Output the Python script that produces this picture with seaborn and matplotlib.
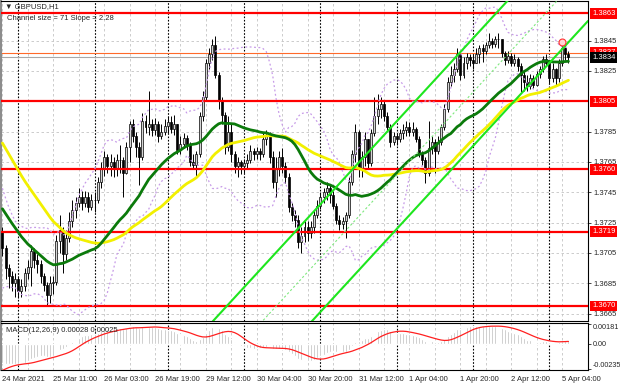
import numpy as np
import pandas as pd
import matplotlib
matplotlib.use('Agg')
import matplotlib.pyplot as plt
import matplotlib.transforms as mtransforms
import seaborn as sns

sns.set_style('white')
plt.rcParams['font.family'] = ['Liberation Sans', 'DejaVu Sans']

symbol = '\u25BC GBPUSD,H1'
channel_note = 'Channel size = 71 Slope = 2.28'
macd_note = 'MACD(12,26,9) 0.00028 0.00025'

# closes before the first drawn bar, only used to warm up the indicators
pre_close = [1.3872, 1.3875, 1.3870, 1.3866, 1.3870, 1.3862, 1.3858, 1.3860, 1.3852, 1.3855,
             1.3848, 1.3842, 1.3845, 1.3836, 1.3828, 1.3832, 1.3820, 1.3812, 1.3815, 1.3805,
             1.3798, 1.3790, 1.3782, 1.3785, 1.3775, 1.3770, 1.3772, 1.3765, 1.3768, 1.3760,
             1.3762, 1.3752, 1.3746, 1.3740, 1.3733, 1.3725, 1.3717, 1.3710, 1.3703, 1.3695,
             1.3690, 1.3697, 1.3705, 1.3700, 1.3706, 1.3711, 1.3714, 1.3708, 1.3715, 1.3719]

# H1 bars from 24 Mar 19:00 to 5 Apr 06:00
close = [1.3708, 1.3695, 1.3690, 1.3685, 1.3688, 1.3680, 1.3683, 1.3692, 1.3696, 1.3706,
         1.3700, 1.3698, 1.3690, 1.3684, 1.3677, 1.3685, 1.3686, 1.3713, 1.3720, 1.3704,
         1.3715, 1.3726, 1.3733, 1.3738, 1.3742, 1.3738, 1.3742, 1.3735, 1.3740, 1.3740,
         1.3752, 1.3760, 1.3768, 1.3762, 1.3765, 1.3760, 1.3766, 1.3766, 1.3758, 1.3775,
         1.3790, 1.3782, 1.3775, 1.3768, 1.3792, 1.3788, 1.3790, 1.3786, 1.3790, 1.3782,
         1.3785, 1.3789, 1.3791, 1.3787, 1.3790, 1.3773, 1.3777, 1.3781, 1.3776, 1.3765,
         1.3763, 1.3770, 1.3795, 1.3808, 1.3830, 1.3836, 1.3842, 1.3822, 1.3805, 1.3796,
         1.3775, 1.3785, 1.3770, 1.3762, 1.3765, 1.3762, 1.3764, 1.3766, 1.3772, 1.3770,
         1.3772, 1.3770, 1.3780, 1.3783, 1.3768, 1.3752, 1.3760, 1.3768, 1.3762, 1.3755,
         1.3735, 1.3730, 1.3727, 1.3712, 1.3716, 1.3722, 1.3718, 1.3722, 1.3730, 1.3736,
         1.3742, 1.3745, 1.3748, 1.3743, 1.3736, 1.3727, 1.3724, 1.3726, 1.3730, 1.3752,
         1.3770, 1.3785, 1.3760, 1.3768, 1.3780, 1.3764, 1.3784, 1.3795, 1.3800, 1.3803,
         1.3795, 1.3788, 1.3778, 1.3782, 1.3780, 1.3784, 1.3786, 1.3788, 1.3785, 1.3787,
         1.3780, 1.3770, 1.3766, 1.3758, 1.3774, 1.3778, 1.3772, 1.3778, 1.3788, 1.3800,
         1.3818, 1.3822, 1.3826, 1.3836, 1.3822, 1.3830, 1.3834, 1.3832, 1.3830, 1.3836,
         1.3840, 1.3838, 1.3842, 1.3845, 1.3843, 1.3846, 1.3846, 1.3837, 1.3832, 1.3835,
         1.3830, 1.3833, 1.3828, 1.3822, 1.3818, 1.3815, 1.3820, 1.3816, 1.3823, 1.3826,
         1.3833, 1.3830, 1.3820, 1.3826, 1.3820, 1.3830, 1.3840, 1.3836, 1.3834]
high = [1.3722, 1.3710, 1.3698, 1.3693, 1.3692, 1.3690, 1.3688, 1.3695, 1.3700, 1.3710,
        1.3708, 1.3704, 1.3700, 1.3692, 1.3686, 1.3690, 1.3690, 1.3717, 1.3730, 1.3722,
        1.3720, 1.3732, 1.3740, 1.3742, 1.3748, 1.3746, 1.3746, 1.3745, 1.3744, 1.3745,
        1.3755, 1.3765, 1.3772, 1.3770, 1.3770, 1.3768, 1.3770, 1.3776, 1.3768, 1.3778,
        1.3792, 1.3793, 1.3785, 1.3778, 1.3797, 1.3796, 1.3812, 1.3793, 1.3794, 1.3792,
        1.3790, 1.3793, 1.3795, 1.3795, 1.3796, 1.3790, 1.3782, 1.3784, 1.3783, 1.3778,
        1.3770, 1.3772, 1.3798, 1.3812, 1.3833, 1.3840, 1.3846, 1.3848, 1.3824, 1.3808,
        1.3798, 1.3795, 1.3790, 1.3772, 1.3768, 1.3766, 1.3767, 1.3770, 1.3776, 1.3774,
        1.3775, 1.3774, 1.3784, 1.3786, 1.3785, 1.3772, 1.3768, 1.3772, 1.3774, 1.3765,
        1.3758, 1.3738, 1.3733, 1.3730, 1.3722, 1.3726, 1.3726, 1.3726, 1.3733, 1.3740,
        1.3745, 1.3748, 1.3752, 1.3750, 1.3746, 1.3738, 1.3730, 1.3729, 1.3732, 1.3755,
        1.3773, 1.3790, 1.3786, 1.3772, 1.3785, 1.3780, 1.3787, 1.3808, 1.3810, 1.3808,
        1.3806, 1.3798, 1.3790, 1.3785, 1.3784, 1.3787, 1.3790, 1.3792, 1.3791, 1.3791,
        1.3788, 1.3782, 1.3772, 1.3768, 1.3792, 1.3782, 1.3780, 1.3782, 1.3790, 1.3803,
        1.3821, 1.3828, 1.3830, 1.3840, 1.3836, 1.3834, 1.3837, 1.3836, 1.3836, 1.3840,
        1.3842, 1.3843, 1.3844, 1.3850, 1.3847, 1.3848, 1.3850, 1.3846, 1.3838, 1.3838,
        1.3837, 1.3836, 1.3834, 1.3830, 1.3825, 1.3822, 1.3823, 1.3822, 1.3825, 1.3828,
        1.3835, 1.3836, 1.3830, 1.3830, 1.3827, 1.3833, 1.3844, 1.3843, 1.3838]
low = [1.3703, 1.3688, 1.3682, 1.3680, 1.3676, 1.3675, 1.3676, 1.3680, 1.3688, 1.3683,
       1.3695, 1.3692, 1.3685, 1.3680, 1.3670, 1.3672, 1.3678, 1.3684, 1.3705, 1.3692,
       1.3700, 1.3712, 1.3722, 1.3728, 1.3735, 1.3733, 1.3735, 1.3732, 1.3733, 1.3732,
       1.3738, 1.3748, 1.3756, 1.3758, 1.3756, 1.3755, 1.3756, 1.3758, 1.3742, 1.3757,
       1.3765, 1.3778, 1.3768, 1.3750, 1.3766, 1.3784, 1.3783, 1.3782, 1.3783, 1.3778,
       1.3780, 1.3783, 1.3784, 1.3784, 1.3783, 1.3770, 1.3770, 1.3774, 1.3773, 1.3762,
       1.3760, 1.3756, 1.3768, 1.3792, 1.3805, 1.3826, 1.3832, 1.3820, 1.3800, 1.3790,
       1.3770, 1.3772, 1.3765, 1.3758, 1.3755, 1.3757, 1.3758, 1.3760, 1.3764, 1.3766,
       1.3767, 1.3766, 1.3768, 1.3776, 1.3764, 1.3748, 1.3742, 1.3756, 1.3758, 1.3751,
       1.3732, 1.3726, 1.3722, 1.3708, 1.3705, 1.3712, 1.3713, 1.3715, 1.3718, 1.3728,
       1.3734, 1.3738, 1.3740, 1.3738, 1.3734, 1.3724, 1.3720, 1.3721, 1.3715, 1.3728,
       1.3750, 1.3765, 1.3755, 1.3755, 1.3762, 1.3760, 1.3762, 1.3782, 1.3790, 1.3794,
       1.3792, 1.3786, 1.3775, 1.3776, 1.3776, 1.3778, 1.3780, 1.3782, 1.3782, 1.3782,
       1.3778, 1.3768, 1.3763, 1.3751, 1.3756, 1.3770, 1.3758, 1.3770, 1.3776, 1.3786,
       1.3798, 1.3815, 1.3818, 1.3824, 1.3819, 1.3820, 1.3826, 1.3828, 1.3826, 1.3832,
       1.3830, 1.3831, 1.3836, 1.3840, 1.3840, 1.3841, 1.3840, 1.3834, 1.3829, 1.3830,
       1.3828, 1.3828, 1.3825, 1.3811, 1.3812, 1.3812, 1.3813, 1.3814, 1.3815, 1.3820,
       1.3824, 1.3828, 1.3817, 1.3818, 1.3816, 1.3818, 1.3828, 1.3832, 1.3830]

levels = [1.3863, 1.3805, 1.3760, 1.3719, 1.3670]
ask_price = 1.3837
bid_price = 1.3834
alert_bar, alert_price = 176, 1.3844

day_starts = [5, 29, 52, 76, 100, 124, 148, 172]
tick_bars = list(range(0, 177, 16))
tick_labels = ['24 Mar 2021', '25 Mar 11:00', '26 Mar 03:00', '26 Mar 19:00',
               '29 Mar 12:00', '30 Mar 04:00', '30 Mar 20:00', '31 Mar 12:00',
               '1 Apr 04:00', '1 Apr 20:00', '2 Apr 12:00', '5 Apr 04:00']
price_ticks = [1.3665, 1.3685, 1.3705, 1.3725, 1.3745, 1.3765, 1.3785, 1.3825, 1.3845]
macd_max, macd_min = 0.00181, -0.00235

# channel: upper line crosses 1.3660 at bar 66.2, 2.28 pips per bar, 71 pips wide
chan_bar0, chan_price0 = 66.2, 1.3660
chan_slope = 0.000228
chan_size = 0.0071

# indicators
n_pre = len(pre_close)
full = pd.Series(pre_close + close, dtype=float)
ma30 = full.rolling(30).mean().values[n_pre:]
ma50 = full.rolling(50).mean().values[n_pre:]
bb_mid = full.rolling(20).mean()
bb_sd = full.rolling(20).std(ddof=0)
bb_up = (bb_mid + 2 * bb_sd).values[n_pre:]
bb_dn = (bb_mid - 2 * bb_sd).values[n_pre:]
macd_full = full.ewm(span=12, adjust=False).mean() - full.ewm(span=26, adjust=False).mean()
signal_full = macd_full.rolling(9).mean()
macd = macd_full.values[n_pre:]
signal = signal_full.values[n_pre:]

c = np.array(close)
o = np.array([pre_close[-1]] + close[:-1])
h = np.maximum(np.array(high), np.maximum(o, c))
l = np.minimum(np.array(low), np.minimum(o, c))
x = np.arange(len(c))

fig = plt.figure(figsize=(6.2, 3.88), dpi=100)
W, H = 620.0, 388.0
ax = fig.add_axes([1 / W, 1 - 321 / H, 587 / W, 320 / H])
ax2 = fig.add_axes([1 / W, 1 - 370 / H, 587 / W, 47 / H])

xlim = (-0.44, 184.15)
grid_kw = dict(color='#c4c4c4', linestyle=(0, (3, 3)), linewidth=0.6)
for a in (ax, ax2):
    a.set_xlim(*xlim)
    a.set_axisbelow(True)
    a.set_xticks(tick_bars)
    a.set_xticks(range(0, 185, 8), minor=True)
    a.grid(True, which='both', axis='x', **grid_kw)
    for d in day_starts:
        a.axvline(d, color='black', linestyle=(0, (1.5, 1.5)), linewidth=0.8, zorder=1.5)
    for s in a.spines.values():
        s.set_color('black')
        s.set_linewidth(0.8)
    a.spines['left'].set_color('#8c8c8c')
    a.spines['left'].set_linewidth(1.5)
    a.yaxis.tick_right()
    a.tick_params(axis='y', labelsize=5.5, length=2.5, pad=1.5, width=0.6)
    a.tick_params(axis='x', which='minor', length=0)

ax.set_ylim(1.36601, 1.38711)
ax.set_yticks(price_ticks)
ax.set_yticklabels(['%.4f' % p for p in price_ticks])
ax.grid(True, axis='y', **grid_kw)
ax.tick_params(axis='x', labelbottom=False, length=0)

# bid / ask lines
ax.axhline(ask_price, color='#ff6a2a', linewidth=0.8, zorder=2)
ax.axhline(bid_price, color='#a8a8a8', linewidth=0.8, zorder=2)

# candles
up = c >= o
ax.vlines(x, l, h, color='black', linewidth=0.7, zorder=3)
ax.bar(x[up], (c - o)[up], bottom=o[up], width=0.62, color='#d4d4d4',
       edgecolor='black', linewidth=0.5, zorder=4)
ax.bar(x[~up], (o - c)[~up], bottom=c[~up], width=0.62, color='black',
       edgecolor='black', linewidth=0.5, zorder=4)

# support / resistance levels
for lv in levels:
    ax.axhline(lv, color='#ff0000', linewidth=1.6, zorder=5)

# bollinger bands
for band in (bb_up, bb_dn):
    sns.lineplot(x=x, y=band, ax=ax, color='#c79be8', linewidth=0.9,
                 linestyle=(0, (1.5, 2)), estimator=None, zorder=5.5)

# moving averages
sns.lineplot(x=x, y=ma50, ax=ax, color='#f2f000', linewidth=2.0, estimator=None, zorder=6)
sns.lineplot(x=x, y=ma30, ax=ax, color='#0b7a0b', linewidth=2.0, estimator=None, zorder=6.5)

# channel
xs = np.array(xlim)
upper = chan_price0 + chan_slope * (xs - chan_bar0)
ax.plot(xs, upper, color='#1ee61e', linewidth=1.5, zorder=7)
ax.plot(xs, upper - chan_size, color='#1ee61e', linewidth=1.5, zorder=7)
ax.plot(xs, upper - chan_size / 2, color='#7ee87e', linewidth=0.8,
        linestyle=(0, (2, 2)), zorder=7)

ax.plot([alert_bar], [alert_price], marker='o', markersize=5, markerfacecolor='#ffd6d6',
        markeredgecolor='#ff3030', markeredgewidth=0.8, zorder=8)

# price labels on the right
trans = mtransforms.blended_transform_factory(ax.transAxes, ax.transData)
box_kw = dict(ha='left', va='center', fontsize=5.5, color='white', transform=trans,
              clip_on=False, zorder=10)
for lv in levels + [ask_price]:
    ax.text(1.0068, lv, '%.4f' % lv,
            bbox=dict(boxstyle='square,pad=0.25', fc='#ff0000', ec='none'), **box_kw)
ax.text(1.0068, bid_price, '%.4f' % bid_price,
        bbox=dict(boxstyle='square,pad=0.25', fc='black', ec='none'), **box_kw)

# MACD panel, scaled to the window's max/min like the terminal does
ax2.bar(x, macd, width=0.6, color='#b4b4b4', zorder=2)
sns.lineplot(x=x, y=signal, ax=ax2, color='#ff2020', linewidth=0.9, estimator=None, zorder=3)
pad = (macd_max - macd_min) / 45
ax2.set_ylim(macd_min - pad, macd_max + pad)
ax2.set_yticks([macd_min, 0.0, macd_max])
ax2.set_yticklabels(['%.5f' % macd_min, '0.00', '%.5f' % macd_max])
ax2.tick_params(axis='y', labelsize=5.2, pad=1)
ylabs = ax2.get_yticklabels()
ylabs[0].set_verticalalignment('bottom')
ylabs[2].set_verticalalignment('top')
ax2.set_xticklabels(tick_labels)
ax2.tick_params(axis='x', which='major', labelsize=5.5, length=2.5, pad=2, width=0.6)
for lab in ax2.get_xticklabels():
    lab.set_horizontalalignment('left')
for a in (ax, ax2):
    a.set_xlabel('')
    a.set_ylabel('')

fig.text(5 / W, 1 - 7 / H, symbol, fontsize=5.5, va='center', ha='left')
fig.text(7 / W, 1 - 18 / H, channel_note, fontsize=5.5, va='center', ha='left')
fig.text(6 / W, 1 - 331 / H, macd_note, fontsize=5.5, va='center', ha='left')

fig.savefig('out.png', dpi=100)
